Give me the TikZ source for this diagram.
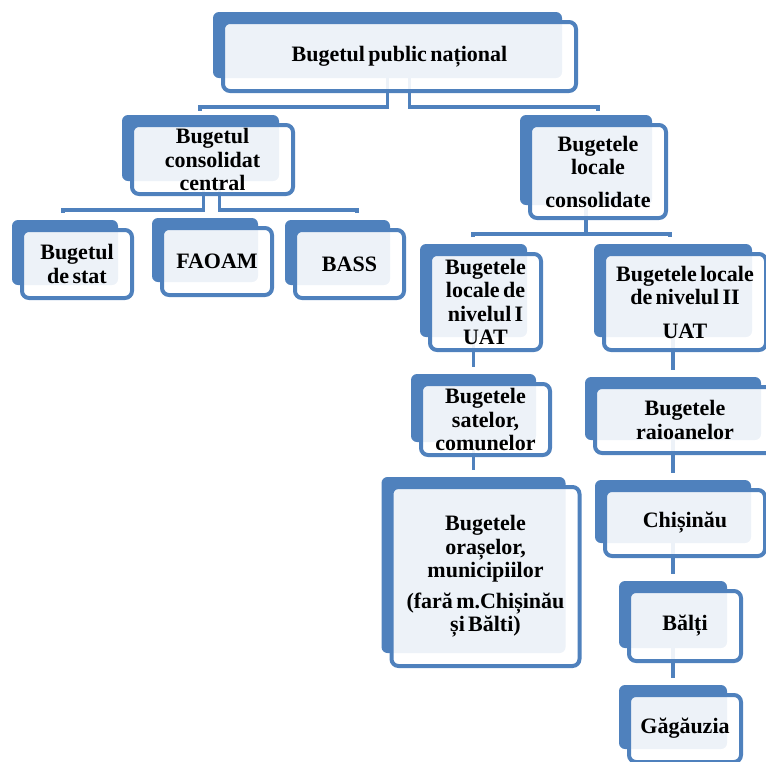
\documentclass[tikz,border=0pt]{standalone}
\usepackage{fontspec}
\setmainfont{Liberation Serif}[WordSpace=0.6]
\usepackage{tikz}
\usetikzlibrary{backgrounds}
\definecolor{boxblue}{RGB}{79,129,189}

\begin{document}
\begin{tikzpicture}[x=1pt,y=-1pt,
  budget/.style={draw=boxblue, line width=4pt, fill=white, fill opacity=0.9, text opacity=1,
    rounded corners=7pt, align=center, inner sep=0pt, font=\bfseries\fontsize{22}{23.5}\selectfont},
  link/.style={draw=boxblue, line width=3.5pt}]
\useasboundingbox (0,0) rectangle (766,761);
\clip (0,0) rectangle (766,761);
\node[budget, minimum width=353pt, minimum height=69pt] (pub) at (399.5,56.5) {Bugetul public național};
\node[budget, minimum width=161pt, minimum height=69pt] (central) at (212.5,159.5) {Bugetul\\consolidat\\central};
\node[budget, minimum width=110pt, minimum height=68pt] (stat) at (77,264) {Bugetul\\de stat};
\node[budget, minimum width=110pt, minimum height=67pt] (faoam) at (217,261.5) {FAOAM};
\node[budget, minimum width=109pt, minimum height=68pt] (bass) at (349.5,264) {BASS};
\node[budget, minimum width=136pt, minimum height=93pt] (local) at (598,171.5) {Bugetele\\locale\\[9pt]consolidate};
\node[budget, minimum width=111pt, minimum height=96pt] (niv1) at (485.5,302) {Bugetele\\locale de\\nivelul I\\UAT};
\node[budget, minimum width=162pt, minimum height=96pt] (niv2) at (685,302) {Bugetele locale\\de nivelul II\\[10pt]UAT};
\node[budget, minimum width=129pt, minimum height=71pt] (sate) at (485.5,419.5) {Bugetele\\satelor,\\comunelor};
\node[budget, minimum width=180pt, minimum height=66pt] (raion) at (685,420) {Bugetele\\raioanelor};
\node[budget, minimum width=188pt, minimum height=179pt] (oras) at (485.5,576.5) {Bugetele\\orașelor,\\municipiilor\\[7pt](fară m.Chișinău\\și Bălti)};
\node[budget, minimum width=160pt, minimum height=66pt] (chis) at (685,523) {Chișinău};
\node[budget, minimum width=112pt, minimum height=70pt] (balti) at (685,626) {Bălți};
\node[budget, minimum width=112pt, minimum height=67pt] (gag) at (685,728.5) {Găgăuzia};
\begin{scope}[on background layer]
\foreach \n in {pub,central,stat,faoam,bass,local,niv1,niv2,sate,raion,oras,chis,balti,gag}
  \fill[boxblue, rounded corners=6pt] ([shift={(-8pt,8pt)}]\n.north west) rectangle ([shift={(-16pt,15pt)}]\n.south east);
\coordinate (pubL) at (200,107);
\coordinate (pubR) at (598,107);
\draw[link] ([shift={(-12pt,15pt)}]pub.south) |- (pubL) -- ++(0,4);
\draw[link] ([shift={(10pt,15pt)}]pub.south) |- (pubR) -- ++(0,4);
\coordinate (centralL) at (63,210);
\coordinate (centralR) at (357,210);
\draw[link] ([shift={(-9pt,13pt)}]central.south) |- (centralL) -- ++(0,3);
\draw[link] ([shift={(7pt,13pt)}]central.south) |- (centralR) -- ++(0,3);
\coordinate (localL) at (473,234);
\coordinate (localR) at (670,234);
\draw[link] (localL) ++(0,3) -- (localL) -- (localR) -- ++(0,3);
\draw[link] ([shift={(-12pt,13pt)}]local.south) |- (localL);
\foreach \a/\b in {niv1/sate,sate/oras,niv2/raion,raion/chis,chis/balti,balti/gag}
  \draw[link] ([shift={(-12pt,15pt)}]\a.south) -- ([shift={(-12pt,15pt)}]\b.north);
\end{scope}
\end{tikzpicture}
\end{document}
